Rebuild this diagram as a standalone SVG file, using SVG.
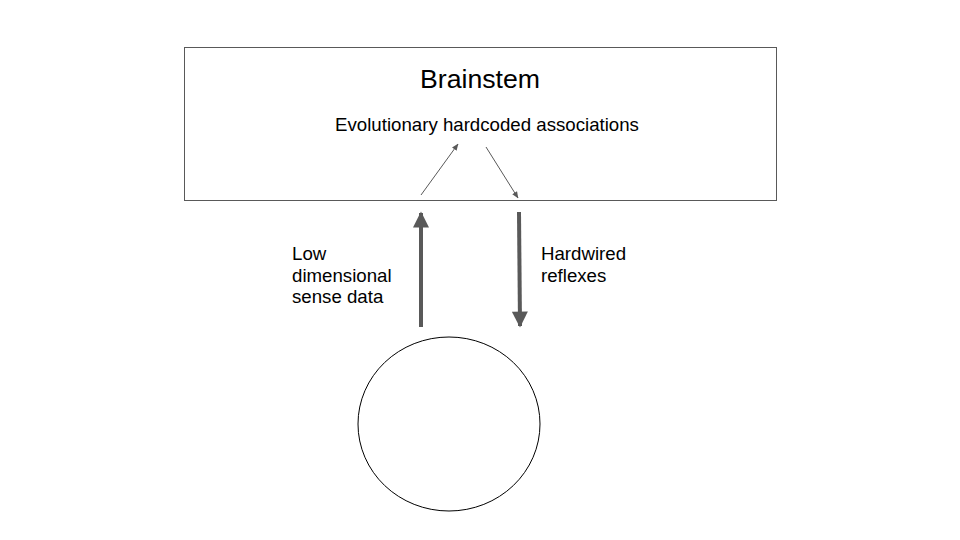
<svg xmlns="http://www.w3.org/2000/svg" width="960" height="540" viewBox="0 0 960 540">
<style>
text{font-family:"Liberation Sans",Arial,sans-serif;fill:#000}
.thin{stroke:#595959;stroke-width:1;fill:none}
.thick{stroke:#595959;stroke-width:4;fill:none}
.box{fill:#fff;stroke:#595959;stroke-width:1}
</style>
<defs>
<marker id="ah" viewBox="0 0 10 10" refX="9" refY="5" markerWidth="7" markerHeight="7" markerUnits="userSpaceOnUse" orient="auto"><path d="M0,1 L10,5 L0,9 z" fill="#595959"/></marker>
<marker id="ahb" viewBox="0 0 10 10" refX="9" refY="5" markerWidth="6" markerHeight="4" orient="auto"><path d="M0,0 L10,5 L0,10 z" fill="#595959"/></marker>
</defs>
<rect width="960" height="540" fill="#fff"/>
<g id="brainstem">
<rect class="box" x="184.5" y="47.5" width="592" height="153"/>
<text x="480" y="88" font-size="26.67" text-anchor="middle">Brainstem</text>
<text x="487" y="131" font-size="18.67" text-anchor="middle">Evolutionary hardcoded associations</text>
</g>
<g id="body">
<ellipse cx="449" cy="424" rx="91" ry="87" fill="#fff" stroke="#000" stroke-width="1"/>
</g>
<g id="labels">
<text x="292" y="260" font-size="18.67">Low</text>
<text x="292" y="282" font-size="18.67">dimensional</text>
<text x="292" y="303" font-size="18.67">sense data</text>
<text x="541" y="260" font-size="18.67">Hardwired</text>
<text x="541" y="282" font-size="18.67">reflexes</text>
</g>
<g id="connectors">
<line class="thin" x1="421" y1="195" x2="458" y2="144" marker-end="url(#ah)"/>
<line class="thin" x1="486" y1="147" x2="518" y2="198" marker-end="url(#ah)"/>
<line class="thick" x1="421" y1="327" x2="421" y2="213" marker-end="url(#ahb)"/>
<line class="thick" x1="519" y1="212" x2="520" y2="326" marker-end="url(#ahb)"/>
</g>
</svg>
